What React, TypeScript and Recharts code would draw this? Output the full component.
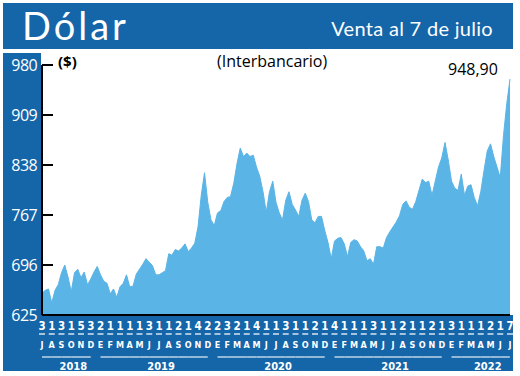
import React from 'react';
import { AreaChart, Area, XAxis, YAxis } from 'recharts';

// month letters (spanish initials) from Jul 2018 to Jul 2022
const monthLetters = [
  'J', 'A', 'S', 'O', 'N', 'D',
  'E', 'F', 'M', 'A', 'M', 'J', 'J', 'A', 'S', 'O', 'N', 'D',
  'E', 'F', 'M', 'A', 'M', 'J', 'J', 'A', 'S', 'O', 'N', 'D',
  'E', 'F', 'M', 'A', 'M', 'J', 'J', 'A', 'S', 'O', 'N', 'D',
  'E', 'F', 'M', 'A', 'M', 'J', 'J',
];

// first quoted day of each month
const firstDays = [
  '3', '1', '3', '1', '5', '3', '2', '1', '1', '1', '1', '3', '1', '1', '2', '1', '4',
  '2', '2', '3', '2', '1', '4', '1', '1', '3', '1', '1', '2', '1', '4', '1', '1', '1',
  '3', '1', '1', '2', '1', '1', '2', '1', '3', '1', '1', '1', '2', '1', '7',
];

const years = ['2018', '2019', '2020', '2021', '2022'];
const yearFirstMonth = [0, 6, 18, 30, 42];
const yearLastMonth = [5, 17, 29, 41, 48];

const priceTicks = [625, 696, 767, 838, 909, 980];

// dollar price, three readings per month
const prices = [
  656, 660, 662, 642, 660, 668, 685, 696, 679, 658, 685, 690, 678, 686, 668, 676,
  686, 694, 682, 673, 670, 655, 662, 650, 665, 670, 682, 665, 666, 683, 690, 697,
  705, 700, 695, 682, 682, 685, 688, 712, 710, 718, 716, 720, 726, 715, 720, 727,
  750, 795, 827, 785, 760, 752, 770, 773, 786, 792, 793, 812, 840, 862, 850, 855,
  850, 852, 835, 822, 800, 771, 800, 815, 785, 770, 760, 788, 800, 782, 774, 765,
  788, 798, 786, 760, 756, 765, 765, 745, 728, 705, 730, 734, 735, 726, 708, 728,
  732, 730, 722, 716, 702, 705, 697, 722, 722, 720, 735, 743, 750, 757, 766, 782,
  787, 778, 775, 786, 802, 818, 813, 815, 795, 815, 835, 848, 870, 845, 815, 805,
  802, 825, 795, 808, 810, 792, 780, 800, 830, 858, 868, 850, 835, 820, 880, 925,
  960,
];

const lastPrice = '948,90';

const PER_MONTH = 3;
const BLUE = '#1565a9';
const FILL = '#5ab4e5';
const STEP = 468 / 48; // px per month on the plot
const narrow = "'DejaVu Sans Condensed', 'Liberation Sans Narrow', sans-serif";

const data = prices.map((v, i) => ({ i, v }));
const monthTicks = monthLetters.map((_, m) => m * PER_MONTH);

const MonthTick = (props: any) => {
  const { x, payload } = props;
  const m = Math.round(payload.value / PER_MONTH);
  const k = yearFirstMonth.findIndex((f, j) => m >= f && m <= yearLastMonth[j]);
  return (
    <g>
      <text x={x} y={330} textAnchor="middle" fill="#fff" fontSize={11.5} fontWeight="bold" fontFamily={narrow}>
        {firstDays[m]}
      </text>
      <line x1={x - 3} x2={x + 3} y1={334} y2={334} stroke="#d8e4f0" strokeWidth={1.5} />
      <text x={x} y={348} textAnchor="middle" fill="#fff" fontSize={9} fontWeight="bold" fontFamily={narrow}>
        {monthLetters[m]}
      </text>
      {m < yearLastMonth[k] && (
        <line x1={x} x2={x + STEP} y1={357} y2={357} stroke="#e8f0f8" strokeWidth={1.2} />
      )}
      {m === yearFirstMonth[k] && (
        <text
          x={x + ((yearLastMonth[k] - yearFirstMonth[k]) * STEP) / 2 + 7}
          y={370}
          textAnchor="middle"
          fill="#fff"
          fontSize={11}
          fontWeight="bold"
          fontFamily={narrow}
        >
          {years[k]}
        </text>
      )}
    </g>
  );
};

const PriceTick = (props: any) => {
  const { y, payload } = props;
  return (
    <g>
      <text x={37} y={y + 5.5} textAnchor="end" fill="#fff" fontSize={16} fontFamily="'Open Sans', sans-serif" letterSpacing={-0.6}>
        {payload.value}
      </text>
      <line x1={42} x2={53} y1={y} y2={y} stroke="#000" strokeWidth={2} />
    </g>
  );
};

const App = () => {
  return (
    <div style={{ position: 'absolute', left: 0, top: 0, width: 520, height: 376, background: '#fff', fontFamily: "'Open Sans', sans-serif" }}>
      {/* header band */}
      <div style={{ position: 'absolute', left: 3, top: 3, width: 510, height: 46, background: BLUE }} />
      <div style={{ position: 'absolute', left: 22, top: 0, color: '#fff', fontFamily: 'Lato, sans-serif', fontSize: 38, letterSpacing: 3, lineHeight: '50px' }}>
        Dólar
      </div>
      <div style={{ position: 'absolute', right: 27, top: 15, color: '#fff', fontFamily: 'Lato, sans-serif', fontSize: 20, lineHeight: '26px', letterSpacing: 0.3 }}>
        Venta al 7 de julio
      </div>
      {/* left and bottom bands */}
      <div style={{ position: 'absolute', left: 3, top: 53, width: 38, height: 318, background: BLUE }} />
      <div style={{ position: 'absolute', left: 3, top: 315, width: 510, height: 56, background: BLUE }} />
      <div style={{ position: 'absolute', left: 58, top: 51, fontSize: 15, fontWeight: 'bold', color: '#000' }}>($)</div>
      <div style={{ position: 'absolute', left: 217, top: 50, fontSize: 16, color: '#000' }}>(Interbancario)</div>
      <div style={{ position: 'absolute', left: 448, top: 58, fontSize: 16, color: '#000' }}>{lastPrice}</div>
      <div style={{ position: 'absolute', left: 0, top: 0 }}>
        <AreaChart width={520} height={376} data={data} margin={{ top: 65, right: 10, bottom: 0, left: 0 }}>
          <XAxis
            dataKey="i"
            type="number"
            domain={[0, prices.length - 1]}
            ticks={monthTicks}
            interval={0}
            height={61}
            tick={<MonthTick />}
            tickLine={false}
            axisLine={{ stroke: '#000', strokeWidth: 2 }}
          />
          <YAxis
            type="number"
            domain={[625, 980]}
            ticks={priceTicks}
            allowDataOverflow
            width={42}
            interval={0}
            tick={<PriceTick />}
            tickLine={false}
            axisLine={{ stroke: '#000', strokeWidth: 2 }}
          />
          <Area
            type="linear"
            dataKey="v"
            stroke={FILL}
            strokeWidth={1}
            fill={FILL}
            fillOpacity={1}
            isAnimationActive={false}
          />
        </AreaChart>
      </div>
    </div>
  );
};

export default App;
